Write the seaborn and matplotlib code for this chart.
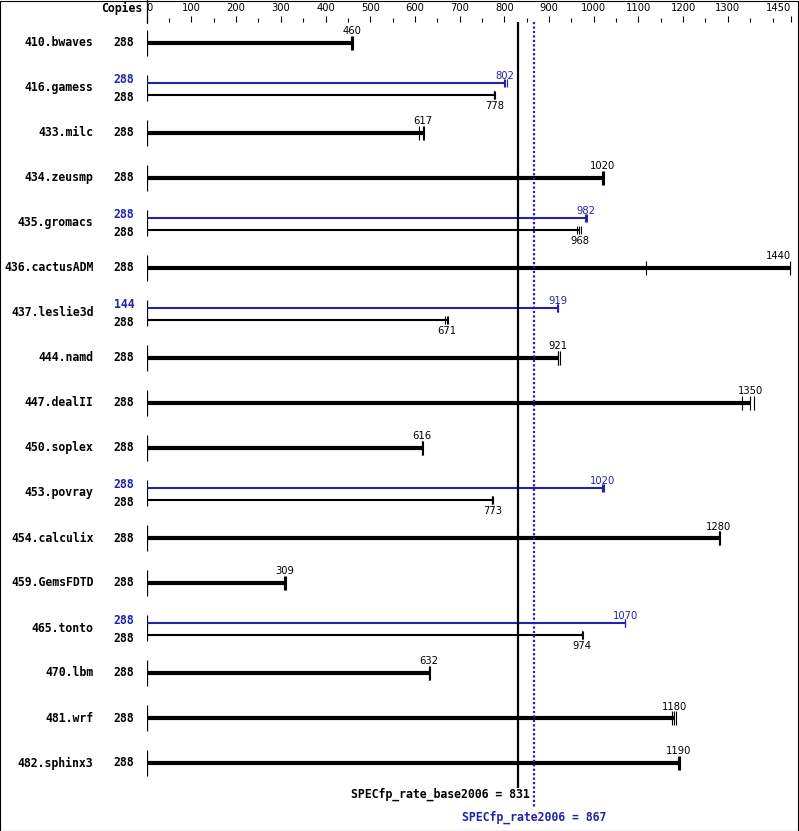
import seaborn as sns
import numpy as np
import pandas as pd
import matplotlib
matplotlib.use("Agg")
import matplotlib.pyplot as plt
from matplotlib.patches import Rectangle
import matplotlib.transforms as mtransforms

# benchmark data
benchmarks = ["410.bwaves", "416.gamess", "433.milc", "434.zeusmp", "435.gromacs",
              "436.cactusADM", "437.leslie3d", "444.namd", "447.dealII", "450.soplex",
              "453.povray", "454.calculix", "459.GemsFDTD", "465.tonto", "470.lbm",
              "481.wrf", "482.sphinx3"]
base_copies = [288] * 17
base_ratio = [460, 778, 617, 1020, 968, 1440, 671, 921, 1350, 616,
              773, 1280, 309, 974, 632, 1180, 1190]
base_runs = [[456, 460, 462], [776, 778, 780], [610, 617, 620], [1018, 1020, 1022],
             [963, 968, 972], [1116, 1440, 1443], [667, 671, 674], [919, 921, 924],
             [1332, 1350, 1359], [616, 616, 617], [773, 773, 774], [1280, 1281, 1282],
             [307, 309, 311], [974, 974, 975], [632, 632, 633], [1175, 1180, 1183],
             [1188, 1190, 1193]]
peak_copies = [None, 288, None, None, 288, None, 144, None, None, None,
               288, None, None, 288, None, None, None]
peak_ratio = [None, 802, None, None, 982, None, 919, None, None, None,
              1020, None, None, 1070, None, None, None]
peak_runs = [None, [800, 802, 805], None, None, [980, 982, 985], None, [918, 919, 921],
             None, None, None, [1018, 1020, 1022], None, None, [1070, 1070, 1071],
             None, None, None]
base_score = 831
peak_score = 867

major_ticks = list(range(0, 1400, 100))
minor_ticks = list(range(50, 1400, 100)) + [1400]
xmax = 1442

BLUE = "#2222aa"
MONO = "DejaVu Sans Mono"
PX = 1 / 45.0  # one pixel in row units
SMALL = 7.2

sns.set_style("white")
plt.rcParams.update({"text.color": "black", "xtick.color": "black",
                     "xtick.labelcolor": "black"})
fig = plt.figure(figsize=(7.99, 8.31), dpi=100)
ax = fig.add_axes([146.7 / 799, 23 / 831, (791.3 - 146.7) / 799, 786 / 831])
ax.set_xlim(0, xmax)
ax.set_ylim(17.0, -21 * PX)
for s in ax.spines.values():
    s.set_visible(False)

rows = np.arange(len(benchmarks))
base_y = np.array([r + (7 * PX if peak_ratio[r] else 0) for r in rows])
peak_rows = [r for r in rows if peak_ratio[r]]
peak_y = np.array([r - 5 * PX for r in peak_rows])

# row axis marks
ax.vlines(np.zeros(len(rows)), rows - 13 * PX, rows + 13 * PX, color="black", lw=0.9)

# bars
single = [r for r in rows if not peak_ratio[r]]
ax.hlines(base_y[single], 0, [base_ratio[r] for r in single], color="black", lw=3.0)
double = [r for r in rows if peak_ratio[r]]
ax.hlines(base_y[double], 0, [base_ratio[r] for r in double], color="black", lw=1.5)
ax.hlines(peak_y, 0, [peak_ratio[r] for r in peak_rows], color=BLUE, lw=1.5)

# individual run marks
runs_df = pd.DataFrame([(base_y[r], v, "single" if not peak_ratio[r] else "double")
                        for r in rows for v in base_runs[r]], columns=["y", "value", "kind"])
sns.scatterplot(data=runs_df[runs_df.kind == "single"], x="value", y="y", marker="|",
                s=95, linewidth=0.8, color="black", ax=ax, legend=False)
sns.scatterplot(data=runs_df[runs_df.kind == "double"], x="value", y="y", marker="|",
                s=36, linewidth=0.8, color="black", ax=ax, legend=False)
peak_df = pd.DataFrame([(r - 5 * PX, v) for r in peak_rows for v in peak_runs[r]],
                       columns=["y", "value"])
sns.scatterplot(data=peak_df, x="value", y="y", marker="|", s=36, linewidth=0.8,
                color=BLUE, ax=ax, legend=False)
ax.set_xlabel("")
ax.set_ylabel("")

# overall score lines
ax.vlines([base_score], -21 * PX, 16 + 24.5 * PX, color="black", lw=1.6)
ax.vlines([peak_score], -21 * PX, 17.0, color=BLUE, lw=1.6, linestyles=[(0, (1, 1))])

# labels
label_tr = mtransforms.blended_transform_factory(fig.transFigure, ax.transData)


def val_label(x, y, txt, color, va):
    ha = "center"
    if x > xmax - 25:
        x, ha = xmax, "right"
    ax.text(x, y, txt, color=color, fontsize=SMALL, ha=ha, va=va, clip_on=False)


for r in rows:
    ax.text(93.5 / 799, r, benchmarks[r], transform=label_tr, family=MONO,
            weight="bold", fontsize=8.3, ha="right", va="center")
    if peak_ratio[r]:
        ax.text(134.5 / 799, r - 8 * PX, str(peak_copies[r]), transform=label_tr,
                family=MONO, weight="bold", fontsize=8.3, ha="right", va="center", color=BLUE)
        ax.text(134.5 / 799, r + 10 * PX, str(base_copies[r]), transform=label_tr,
                family=MONO, weight="bold", fontsize=8.3, ha="right", va="center")
        val_label(peak_ratio[r], r - 12 * PX, str(peak_ratio[r]), BLUE, "center")
        val_label(base_ratio[r], r + 18 * PX, str(base_ratio[r]), "black", "center")
    else:
        ax.text(134.5 / 799, r, str(base_copies[r]), transform=label_tr,
                family=MONO, weight="bold", fontsize=8.3, ha="right", va="center")
        val_label(base_ratio[r], r - 11.5 * PX, str(base_ratio[r]), "black", "center")

ax.annotate("SPECfp_rate_base2006 = %d" % base_score, xy=(base_score, 16 + 31 * PX),
            xytext=(8.6, 0), textcoords="offset points", ha="right", va="center",
            family=MONO, weight="bold", fontsize=8.3, annotation_clip=False)
ax.text(peak_score, 16 + 54 * PX, "SPECfp_rate2006 = %d" % peak_score, ha="center",
        va="center", family=MONO, weight="bold", fontsize=8.3, color=BLUE, clip_on=False)

fig.text(142 / 799, 1 - 8.5 / 831, "Copies", family=MONO, weight="bold", fontsize=8.3,
         ha="right", va="center")

# top scale
ax.xaxis.tick_top()
ax.set_xticks(major_ticks + [xmax])
ax.set_xticklabels([str(t) for t in major_ticks] + ["1450"])
ax.set_xticks(minor_ticks, minor=True)
ax.set_yticks([])
ax.tick_params(axis="x", which="major", length=4.3, width=0.8, direction="out",
               pad=2.4, labelsize=SMALL, top=True, bottom=False)
ax.tick_params(axis="x", which="minor", length=2.9, width=0.8, direction="out",
               top=True, bottom=False)
labels = ax.get_xticklabels()
labels[0].set_horizontalalignment("left")
labels[-1].set_horizontalalignment("right")

# left scale stub and frame
fig.add_artist(plt.Line2D([146.7 / 799, 146.7 / 799], [1 - 23 / 831, 1.0],
                          transform=fig.transFigure, color="black", lw=0.9))
fig.patches.append(Rectangle((0.4 / 799, 0.4 / 831), 798 / 799, 830 / 831,
                             transform=fig.transFigure, fill=False, ec="black", lw=0.8))

fig.savefig("out.png", dpi=100)
